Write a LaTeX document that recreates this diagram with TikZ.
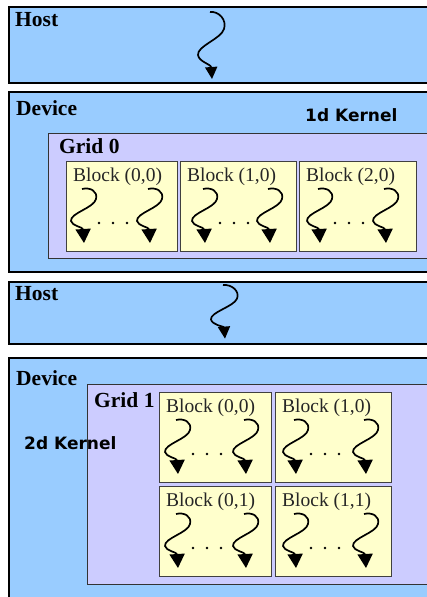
\documentclass[tikz,border=0pt]{standalone}
\usepackage{fontspec}
\setmainfont{Liberation Serif}
\newfontfamily\kfont{DejaVu Sans}
\usetikzlibrary{arrows.meta}
\definecolor{hostblue}{HTML}{99CCFF}
\definecolor{gridlav}{HTML}{CCCCFF}
\definecolor{blockyel}{HTML}{FFFFCC}
\tikzset{
 outerbox/.style={draw=black, line width=2pt, fill=hostblue, inner sep=0pt, outer sep=0pt, anchor=north west},
 gridbox/.style={draw=black!80, line width=0.9pt, fill=gridlav, inner sep=0pt, outer sep=0pt, anchor=north west},
 blockbox/.style={draw=black!75, line width=1pt, fill=blockyel, inner sep=0pt, outer sep=0pt, anchor=north west},
 titletext/.style={font=\fontsize{21.5}{24}\selectfont\bfseries, inner sep=0pt, anchor=base west},
 blocktext/.style={font=\fontsize{19.5}{22}\selectfont, inner sep=0pt, anchor=base west, text=black!85},
 kerneltext/.style={font=\kfont\fontsize{17}{20}\selectfont\bfseries, inner sep=0pt, anchor=base west},
 thread/.style={line width=1.7pt, -{Triangle[width=15pt,length=14pt]}},
 hostthread/.style={line width=1.7pt, -{Triangle[width=12pt,length=12pt]}},
 threaddot/.style={circle, fill=black, inner sep=0pt, minimum size=2.8pt},
 bthread/.pic={\draw[thread] (0,0) .. controls (8,-2) and (16,2) .. (14,10) .. controls (12,19) and (-12,24) .. (-11,32) .. controls (-10,37) and (1,38) .. (2,54);},
 hthread/.pic={\draw[hostthread] (0,0) .. controls (9,-1) and (17,8) .. (14,17) .. controls (11,27) and (-13,34) .. (-12,43) .. controls (-11,50) and (1,52) .. (2,67);},
}
% name, x, y, width, label, s1, s2
\newcommand\threadblock[7]{%
 \node[blockbox, minimum width=#4pt, minimum height=90pt] (#1) at (#2,#3) {};
 \node[blocktext] (#1-l) at (#2+7,#3+20) {#5};
 \pic at (#2+#6,#3+28) {bthread};
 \pic at (#2+#7,#3+28) {bthread};
 \node[threaddot] (#1-d1) at (#2+#6+17,#3+62) {};
 \node[threaddot] (#1-d2) at (#2+#6+31,#3+62) {};
 \node[threaddot] (#1-d3) at (#2+#6+45,#3+62) {};
}
\begin{document}
\begin{tikzpicture}[x=1pt,y=-1pt]
\useasboundingbox (0,0) rectangle (427,597);
\clip (0,0) rectangle (427,597);
\fill[white] (0,0) rectangle (427,597);
% Host 1
\node[outerbox, minimum width=440pt, minimum height=76pt] (host1) at (9,7) {};
\node[titletext] (host1-l) at (15,26) {Host};
\pic at (210,12) {hthread};
% Device 1
\node[outerbox, minimum width=440pt, minimum height=180pt] (dev1) at (9,92) {};
\node[titletext] (dev1-l) at (16,115) {Device};
\node[kerneltext] (k1) at (305,121) {1d Kernel};
\node[gridbox, minimum width=400pt, minimum height=125pt] (grid0) at (48,133) {};
\node[titletext] (grid0-l) at (59,153) {Grid 0};
\threadblock{b00}{66}{161}{111}{Block (0,0)}{16}{82}
\threadblock{b10}{180}{161}{116}{Block (1,0)}{23}{88}
\threadblock{b20}{299}{161}{117}{Block (2,0)}{19}{85}
% Host 2
\node[outerbox, minimum width=440pt, minimum height=62pt] (host2) at (9,282) {};
\node[titletext] (host2-l) at (15,300) {Host};
\pic[yscale=0.8] at (223,285) {hthread};
% Device 2
\node[outerbox, minimum width=440pt, minimum height=260pt] (dev2) at (9,358) {};
\node[titletext] (dev2-l) at (16,385) {Device};
\node[gridbox, minimum width=360pt, minimum height=200pt] (grid1) at (87,384) {};
\node[titletext] (grid1-l) at (94,407) {Grid 1};
\node[kerneltext] (k2) at (24,449) {2d Kernel};
\threadblock{c00}{159}{392}{112}{Block (0,0)}{17}{85}
\threadblock{c10}{275}{392}{116}{Block (1,0)}{19}{89}
\threadblock{c01}{159}{486}{112}{Block (0,1)}{17}{85}
\threadblock{c11}{275}{486}{116}{Block (1,1)}{19}{89}
\end{tikzpicture}
\end{document}
